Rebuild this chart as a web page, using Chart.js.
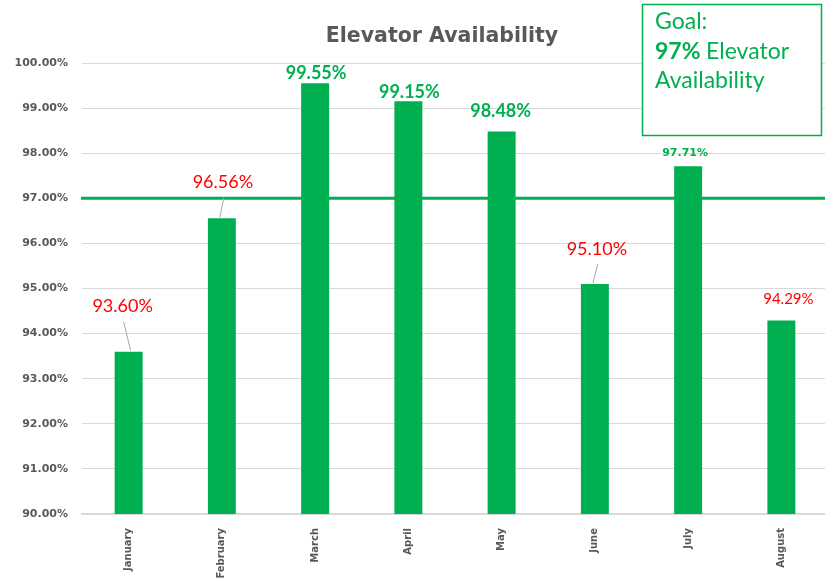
<!DOCTYPE html>
<html>
<head>
<meta charset="utf-8">
<script src="https://cdn.jsdelivr.net/npm/chart.js@4.4.1/dist/chart.umd.min.js"></script>
<style>
  html, body { margin: 0; padding: 0; background: #fff; overflow: hidden; }
  #wrap { position: relative; width: 830px; height: 579px; }
</style>
</head>
<body>
<div id="wrap"><canvas id="availChart"></canvas></div>
<script>
// data
const months = ['January', 'February', 'March', 'April', 'May', 'June', 'July', 'August'];
const availability = [93.60, 96.56, 99.55, 99.15, 98.48, 95.10, 97.71, 94.29];
const goal = 97;
const yTicks = [90, 91, 92, 93, 94, 95, 96, 97, 98, 99, 100];

// label look (not data): offset from bar top, font, leader line
const labelDx = [-6, 1, 1, 1, -1, 2, -3, 7];
const labelDy = [-45, -36, -10, -9, -20, -35, -13, -21];
const labelFont = [
  '18px Lato', '18px Lato', 'bold 18px Lato', 'bold 18px Lato',
  'bold 18px Lato', '18px Lato', 'bold 11px "DejaVu Sans"', '15px Lato'
];
const hasLeader = [true, true, false, false, false, true, false, false];

const GREEN = '#00B050';
const RED = '#FF0000';
const GRAY = '#595959';
const FONT = 'Lato, "Open Sans", sans-serif';
const WIDE = '"DejaVu Sans", Verdana, sans-serif';

const ctx = document.getElementById('availChart').getContext('2d');

const extrasPlugin = {
  id: 'extras',
  afterDatasetsDraw(chart) {
    const c = chart.ctx;
    const y = chart.scales.y;
    const area = chart.chartArea;

    // goal line at 97%
    const gy = y.getPixelForValue(goal);
    c.save();
    c.strokeStyle = GREEN;
    c.lineWidth = 3;
    c.beginPath();
    c.moveTo(area.left - 1, gy);
    c.lineTo(area.right, gy);
    c.stroke();
    c.restore();

    // value labels
    const meta = chart.getDatasetMeta(0);
    meta.data.forEach((bar, i) => {
      const v = availability[i];
      const tx = bar.x + labelDx[i];
      const ty = bar.y + labelDy[i];
      c.save();
      if (hasLeader[i]) {
        c.strokeStyle = '#a6a6a6';
        c.lineWidth = 1;
        c.beginPath();
        c.moveTo(tx + 1, ty + 15);
        c.lineTo(bar.x - 2 * Math.sign(labelDx[i]), bar.y - 1);
        c.stroke();
      }
      c.fillStyle = v < goal ? RED : GREEN;
      c.font = labelFont[i];
      c.textAlign = 'center';
      c.textBaseline = 'middle';
      c.fillText(v.toFixed(2) + '%', tx, ty);
      c.restore();
    });

    // title
    c.save();
    c.fillStyle = GRAY;
    c.font = 'bold 20.5px ' + WIDE;
    c.textAlign = 'center';
    c.textBaseline = 'middle';
    c.fillText('Elevator Availability', 442, 37);
    c.restore();

    // goal box
    c.save();
    c.fillStyle = '#fff';
    c.fillRect(642, 4, 180, 132);
    c.strokeStyle = GREEN;
    c.lineWidth = 1.5;
    c.strokeRect(642.5, 4.5, 179, 131);
    c.fillStyle = GREEN;
    c.textBaseline = 'middle';
    c.textAlign = 'left';
    c.font = '23px ' + FONT;
    c.fillText('Goal:', 655, 22);
    c.font = 'bold 23px ' + FONT;
    c.fillText('97%', 655, 52);
    const w = c.measureText('97% ').width;
    c.font = '23px ' + FONT;
    c.fillText('Elevator', 655 + w, 52);
    c.fillText('Availability', 655, 81);
    c.restore();
  }
};

new Chart(ctx, {
  type: 'bar',
  data: {
    labels: months,
    datasets: [{
      data: availability,
      backgroundColor: GREEN,
      barPercentage: 0.3,
      categoryPercentage: 1
    }]
  },
  options: {
    responsive: true,
    maintainAspectRatio: false,
    animation: false,
    layout: { padding: { top: 63, right: 2, left: 0, bottom: 0 } },
    plugins: { legend: { display: false }, tooltip: { enabled: false }, title: { display: false } },
    scales: {
      x: {
        afterFit(scale) { scale.height = 65; },
        grid: { display: false },
        border: { color: '#d9d9d9', width: 2 },
        ticks: {
          color: GRAY,
          font: { family: WIDE, size: 10, weight: 'bold' },
          minRotation: 90,
          maxRotation: 90,
          padding: 6
        }
      },
      y: {
        min: 90,
        max: 100,
        afterFit(scale) { scale.width = 82; },
        afterBuildTicks(scale) { scale.ticks = yTicks.map(v => ({ value: v })); },
        border: { display: false },
        grid: { color: '#d9d9d9', lineWidth: 1, drawTicks: false },
        ticks: {
          color: GRAY,
          padding: 14,
          font: { family: WIDE, size: 11, weight: 'bold' },
          callback: v => v.toFixed(2) + '%'
        }
      }
    }
  },
  plugins: [extrasPlugin]
});
</script>
</body>
</html>
